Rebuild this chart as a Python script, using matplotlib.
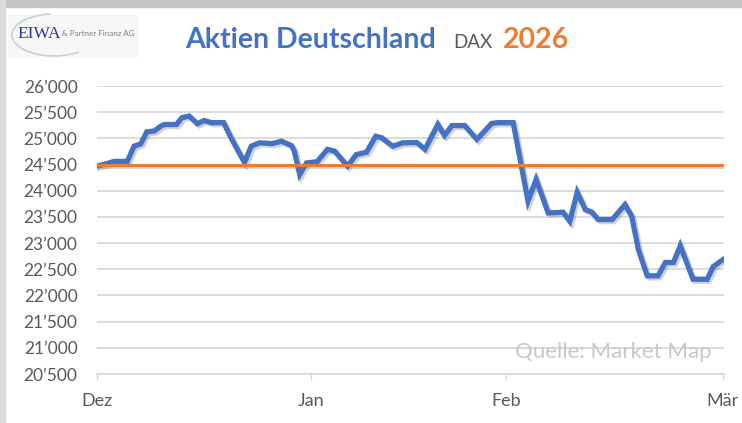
import matplotlib
matplotlib.use("Agg")
import matplotlib.pyplot as plt
import matplotlib.patheffects as pe
from matplotlib.patches import Rectangle, Arc
from matplotlib.ticker import FuncFormatter

# DAX Verlauf (Handelstage ab 1. Dezember)
tage = [0, 1.8, 2.5, 4.5, 5.5, 6.5, 7.4, 8.5, 9.5, 10.0, 11.8, 12.6, 13.7, 14.9,
        15.9, 17.0, 18.8, 19.9, 21.9, 22.9, 24.1, 26.0, 27.4, 28.9, 29.3, 30.1,
        31.1, 32.7, 34.2, 35.3, 37.2, 38.5, 40.0, 41.4, 42.3, 43.9, 45.4, 47.5,
        48.7, 50.6, 51.6, 52.7, 54.6, 56.4, 58.6, 59.5, 61.8, 64.0, 65.2, 67.0,
        69.2, 70.2, 71.3, 72.5, 73.5, 74.4, 76.5, 78.4, 79.4, 80.4, 81.7, 83.3,
        84.4, 85.6, 86.6, 88.5, 90.6, 91.5, 93.0]
dax = [24470, 24530, 24560, 24560, 24850, 24895, 25125, 25140, 25235, 25265,
       25265, 25395, 25425, 25280, 25340, 25300, 25300, 25010, 24540, 24850,
       24915, 24900, 24945, 24860, 24755, 24310, 24530, 24555, 24790, 24755,
       24470, 24690, 24735, 25040, 25010, 24850, 24915, 24920, 24790, 25265,
       25055, 25245, 25245, 24980, 25285, 25300, 25300, 23800, 24215, 23575,
       23590, 23415, 23970, 23640, 23590, 23450, 23450, 23735, 23510, 22870,
       22375, 22375, 22630, 22630, 22950, 22310, 22310, 22550, 22690]
referenz = 24500

monat_pos = [0, 31.8, 60.7, 92.9]
monat_labels = ["Dez", "Jan", "Feb", "Mär"]
y_ticks = list(range(20500, 26001, 500))

plt.rcParams["font.family"] = ["Lato", "DejaVu Sans"]

W, H = 742, 423
fig = plt.figure(figsize=(W / 100, H / 100), dpi=100)
fig.patch.set_facecolor("white")

# Rahmen oben / links wie im Screenshot
fig.patches.append(Rectangle((0, 1 - 7 / H), 1, 7 / H, transform=fig.transFigure,
                             color="#c4c4c4", zorder=0))
fig.patches.append(Rectangle((0, 0), 5 / W, 1, transform=fig.transFigure,
                             color="#dcdcdc", zorder=0))

ax = fig.add_axes([97 / W, 1 - 374 / H, 627 / W, 288 / H])
ax.set_xlim(0, 93.1)
ax.set_ylim(20500, 26000)

ax.set_yticks(y_ticks)
ax.yaxis.set_major_formatter(FuncFormatter(lambda v, p: f"{int(v) // 1000}\u2019{int(v) % 1000:03d}"))
ax.grid(axis="y", color="#d9d9d9", linewidth=1.3)
ax.set_axisbelow(True)
for s in ["top", "right", "left"]:
    ax.spines[s].set_visible(False)
ax.spines["bottom"].set_color("#d9d9d9")
ax.spines["bottom"].set_linewidth(1.3)
ax.tick_params(axis="y", length=0, pad=14, labelsize=12.5, labelcolor="#595959")
ax.tick_params(axis="x", length=4.5, width=1, color="#d9d9d9", pad=9,
               labelsize=13, labelcolor="#595959")
ax.set_xticks(monat_pos)
ax.set_xticklabels(monat_labels)

schatten = [pe.SimpleLineShadow(offset=(1.5, -1.5), shadow_color="gray", alpha=0.35),
            pe.Normal()]
ax.plot(tage, dax, color="#4472c4", linewidth=3.8, solid_joinstyle="miter",
        path_effects=schatten, zorder=3)
ax.axhline(referenz, xmin=0, xmax=92.9 / 93.1, color="#ed7d31", linewidth=2.2,
           path_effects=schatten, zorder=4)

ax.text(0.98, 0.075, "Quelle: Market Map", transform=ax.transAxes, ha="right",
        va="center", fontsize=16, color="#c8c8c8")

# Titel
fig.text(185 / W, 1 - 48 / H, "Aktien Deutschland", fontsize=20.5, fontweight="bold",
         color="#4472c4", va="baseline", ha="left")
fig.text(453 / W, 1 - 48 / H, "DAX", fontsize=13.5, color="#595959",
         va="baseline", ha="left")
fig.text(503 / W, 1 - 48 / H, "2026", fontsize=20.5, fontweight="bold",
         color="#ed7d31", va="baseline", ha="left")

# Logo
fig.patches.append(Rectangle((8 / W, 1 - 56 / H), 130 / W, 41 / H,
                             transform=fig.transFigure, color="#f7f7f7", zorder=0))
fig.patches.append(Arc((54 / W, 1 - 35 / H), 84 / W, 42 / H, theta1=95, theta2=310,
                       transform=fig.transFigure, color="#c9cfd9", linewidth=1.2))
fig.text(17 / W, 1 - 34 / H, "EIWA", family="Liberation Serif", fontsize=12.5,
         color="#2e3a87", va="center", ha="left")
fig.text(62 / W, 1 - 34 / H, "& Partner Finanz AG", fontsize=5.8, color="#808080",
         va="center", ha="left")

fig.savefig("out.png", dpi=100)
